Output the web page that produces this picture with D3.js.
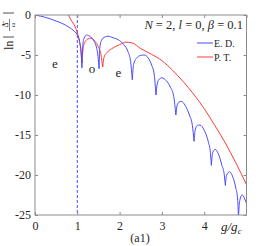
<!DOCTYPE html>
<html>
<head>
<meta charset="utf-8">
<script src="https://cdnjs.cloudflare.com/ajax/libs/d3/7.8.5/d3.min.js"></script>
<style>
  body { margin: 0; background: #fff; }
  text { font-family: "Liberation Serif", "DejaVu Serif", serif; fill: #262626; }
</style>
</head>
<body>
<div id="main"></div>
<script>
// E. D. curve (x = g/gc, y = ln value)
var edX = [0, 0.25, 0.5, 0.75, 0.9, 1.0, 1.06, 1.09, 1.11,
           1.13, 1.16, 1.22, 1.3, 1.4, 1.46, 1.49, 1.515,
           1.53, 1.57, 1.65, 1.73, 1.85, 2.0, 2.1, 2.2, 2.26, 2.30,
           2.33, 2.40, 2.5, 2.58, 2.68, 2.76, 2.82, 2.86,
           2.89, 2.94, 3.0, 3.1, 3.2, 3.28, 3.33,
           3.36, 3.4, 3.46, 3.55, 3.65, 3.72, 3.76,
           3.79, 3.84, 3.9, 4.0, 4.1, 4.14, 4.17,
           4.2, 4.26, 4.33, 4.42, 4.47, 4.50,
           4.53, 4.6, 4.68, 4.75, 4.79, 4.81,
           4.84, 4.9, 4.96, 5.0];
var edY = [0, -0.3, -0.75, -1.35, -1.9, -2.5, -3.5, -4.6, -6.6,
           -3.8, -2.9, -2.5, -2.7, -3.3, -4.2, -5.2, -6.7,
           -4.2, -3.2, -2.75, -2.65, -2.85, -3.2, -3.7, -4.6, -5.8, -8.1,
           -6.2, -5.4, -5.05, -5.0, -5.4, -6.3, -7.5, -10,
           -8.6, -8.0, -7.85, -8.2, -9.0, -10.2, -12.5,
           -11.3, -10.9, -10.8, -11.3, -12.5, -13.8, -15.8,
           -14.3, -13.8, -13.75, -14.4, -15.9, -16.9, -18.8,
           -17.2, -16.8, -17.3, -18.8, -19.8, -21.3,
           -20.0, -19.6, -20.3, -21.7, -23.0, -25.2,
           -23.2, -22.5, -23.0, -23.6];
// cusps where the E. D. curve is split
var edCusps = [1.11, 1.515, 2.30, 2.86, 3.33, 3.76, 4.17, 4.50, 4.81];

// P. T. curve
var ptX = [0.76, 0.85, 0.95, 1.0, 1.05, 1.08, 1.11,
           1.13, 1.17, 1.25, 1.32, 1.42, 1.5, 1.56, 1.6,
           1.63, 1.7, 1.85, 2.0, 2.15, 2.3, 2.5, 2.75, 3.0, 3.25, 3.5, 3.75, 4.0, 4.25, 4.5, 4.75, 5.0];
var ptY = [0.3, -0.6, -1.5, -2.2, -3.2, -4.3, -6.0,
           -4.5, -3.5, -3.0, -2.9, -3.3, -4.0, -5.0, -6.5,
           -5.3, -4.7, -4.1, -3.7, -3.4, -3.5, -4.2, -4.9, -5.7, -6.9, -8.3, -9.9, -11.7, -13.8, -16.0, -18.5, -21.2];
var ptCusps = [1.11, 1.6];

var xTicks = [0, 1, 2, 3, 4];
var yTicks = [0, -5, -10, -15, -20, -25];
var parityLabels = [{x: 0.47, y: -6.6, t: 'e'}, {x: 1.35, y: -7.3, t: 'o'}, {x: 1.97, y: -7.8, t: 'e'}];
var seriesNames = ['E. D.', 'P. T.'];

var blue = '#4b4bff', red = '#ff3b3b', axisGray = '#8c8c8c';

var w = 273, h = 246;
var m = {left: 35, right: 26.5, top: 15, bottom: 31};

var svg = d3.select('#main').append('svg')
            .attr('width', w).attr('height', h);

var x = d3.scaleLinear().domain([0, 5]).range([m.left, w - m.right]);
var y = d3.scaleLinear().domain([-25, 0]).range([h - m.bottom, m.top]);

svg.append('clipPath').attr('id', 'clip')
   .append('rect')
   .attr('x', x(0)).attr('y', y(0))
   .attr('width', x(5) - x(0)).attr('height', y(-25) - y(0));

// split a series into pieces at its cusps so the cusps stay sharp
function pieces(xs, ys, cusps) {
    var out = [], cur = [];
    xs.forEach(function(v, i) {
        cur.push([v, ys[i]]);
        if (cusps.indexOf(v) >= 0) { out.push(cur); cur = [[v, ys[i]]]; }
    });
    if (cur.length > 1) out.push(cur);
    return out;
}

var line = d3.line()
             .x(d => x(d[0]))
             .y(d => y(d[1]))
             .curve(d3.curveMonotoneX);

var plot = svg.append('g').attr('clip-path', 'url(#clip)');

// dashed g = gc line
plot.append('line')
    .attr('x1', x(1)).attr('x2', x(1))
    .attr('y1', y(0)).attr('y2', y(-25))
    .attr('stroke', blue).attr('stroke-width', 1)
    .attr('stroke-dasharray', '3,2');

plot.selectAll('path.pt')
    .data(pieces(ptX, ptY, ptCusps))
    .enter().append('path')
    .attr('class', 'pt')
    .attr('d', line)
    .attr('fill', 'none').attr('stroke', red).attr('stroke-width', 1);

plot.selectAll('path.ed')
    .data(pieces(edX, edY, edCusps))
    .enter().append('path')
    .attr('class', 'ed')
    .attr('d', line)
    .attr('fill', 'none').attr('stroke', blue).attr('stroke-width', 1);

// axes: ticks inside on all four sides
var tickLen = 3;
svg.append('g')
   .attr('transform', `translate(0,${y(-25)})`)
   .call(d3.axisBottom(x).tickValues(xTicks).tickSize(-tickLen).tickPadding(6).tickFormat(d3.format('d')))
   .call(g => g.select('.domain').remove());
svg.append('g')
   .attr('transform', `translate(0,${y(0)})`)
   .call(d3.axisTop(x).tickValues(xTicks.concat([5])).tickSize(-tickLen).tickFormat(''))
   .call(g => g.select('.domain').remove());
svg.append('g')
   .attr('transform', `translate(${x(0)},0)`)
   .call(d3.axisLeft(y).tickValues(yTicks).tickSize(-tickLen).tickPadding(4).tickFormat(d => d === 0 ? '0' : '-' + Math.abs(d)))
   .call(g => g.select('.domain').remove());
svg.append('g')
   .attr('transform', `translate(${x(5)},0)`)
   .call(d3.axisRight(y).tickValues(yTicks).tickSize(-tickLen).tickFormat(''))
   .call(g => g.select('.domain').remove());

svg.selectAll('.tick line').attr('stroke', axisGray);
svg.selectAll('.tick text').style('font-family', '"Liberation Serif", serif').style('font-size', '12px').attr('fill', '#262626');

svg.append('rect')
   .attr('x', x(0)).attr('y', y(0))
   .attr('width', x(5) - x(0)).attr('height', y(-25) - y(0))
   .attr('fill', 'none').attr('stroke', axisGray).attr('stroke-width', 1);

// x label
var xl = svg.append('text')
   .attr('x', 221).attr('y', 231)
   .style('font-size', '13px').style('font-style', 'italic');
xl.append('tspan').text('g/g');
xl.append('tspan').attr('dy', 3).style('font-size', '9px').text('c');

// panel tag
svg.append('text')
   .attr('x', 140).attr('y', 242)
   .attr('text-anchor', 'middle')
   .style('font-size', '12px')
   .text('(a1)');

// y label (rotated)
var yl = svg.append('g').attr('transform', 'translate(13,28) rotate(-90)');
yl.append('text').attr('x', -22).attr('y', 0).style('font-size', '12px').text('ln');
yl.append('line').attr('x1', -9).attr('x2', -9).attr('y1', -10).attr('y2', 1).attr('stroke', '#262626').attr('stroke-width', 0.8);
yl.append('line').attr('x1', 15).attr('x2', 15).attr('y1', -10).attr('y2', 1).attr('stroke', '#262626').attr('stroke-width', 0.8);
yl.append('text').attr('x', 3).attr('y', -5).attr('text-anchor', 'middle').style('font-size', '8px').text('Δ̄');
yl.append('line').attr('x1', -3).attr('x2', 9).attr('y1', -3.5).attr('y2', -3.5).attr('stroke', '#262626').attr('stroke-width', 0.6);
yl.append('text').attr('x', 3).attr('y', 2).attr('text-anchor', 'middle').style('font-size', '7px').text('ω');

// title inside plot
var tt = svg.append('text')
   .attr('x', 243).attr('y', 29)
   .attr('text-anchor', 'end')
   .style('font-size', '12.5px');
tt.append('tspan').style('font-style', 'italic').text('N');
tt.append('tspan').text(' = 2, ');
tt.append('tspan').style('font-style', 'italic').text('l');
tt.append('tspan').text(' = 0, ');
tt.append('tspan').style('font-style', 'italic').text('β');
tt.append('tspan').text(' = 0.1');

// legend
var leg = svg.append('g').selectAll('g')
   .data(seriesNames).enter().append('g')
   .attr('transform', (d, i) => `translate(197,${43 + i * 14})`);
leg.append('line')
   .attr('x1', 0).attr('x2', 16)
   .attr('stroke', (d, i) => i === 0 ? blue : red).attr('stroke-width', 1);
leg.append('text')
   .attr('x', 17).attr('y', 3.5)
   .style('font-size', '10px')
   .text(d => d);

// parity labels
svg.selectAll('text.par')
   .data(parityLabels).enter().append('text')
   .attr('class', 'par')
   .attr('x', d => x(d.x)).attr('y', d => y(d.y))
   .attr('text-anchor', 'middle')
   .style('font-size', '13px')
   .text(d => d.t);
</script>
</body>
</html>
